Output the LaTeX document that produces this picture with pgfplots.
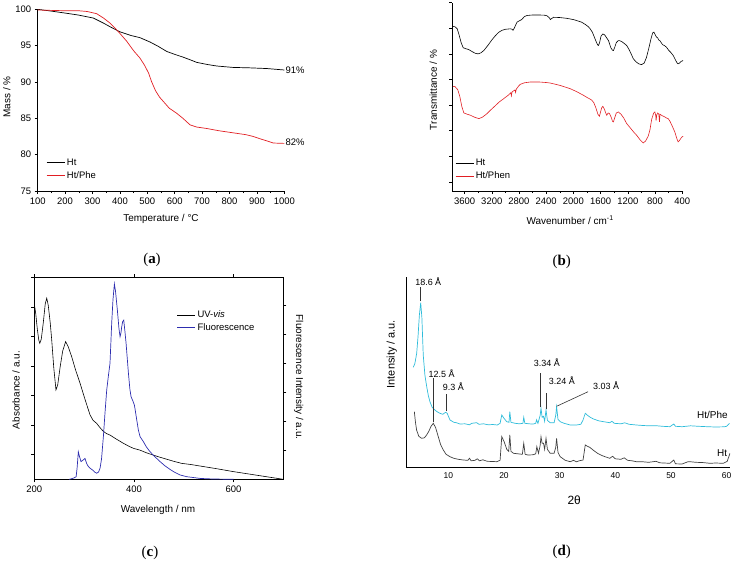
\documentclass[border=0pt]{standalone}
\usepackage{pgfplots}
\pgfplotsset{compat=1.18}
\usepackage{fontspec}
\setmainfont{Liberation Sans}
\newfontfamily\capfont{Liberation Serif}
\definecolor{myred}{RGB}{225,30,35}
\definecolor{myblue}{RGB}{45,45,175}
\definecolor{mycyan}{RGB}{45,188,218}
\pgfplotsset{
  every axis/.append style={
    scale only axis,
    /pgf/number format/assume math mode=true,
    /pgf/number format/1000 sep={},
    tick label style={font=\fontsize{9.5}{10}\selectfont},
    label style={font=\fontsize{10}{11}\selectfont},
    legend style={draw=none, fill=none, font=\fontsize{9.5}{11}\selectfont, inner sep=0pt, row sep=0.5bp},
    legend cell align=left,
    legend image code/.code={\draw[#1] (0bp,0bp) -- (18bp,0bp);},
    tick style={black, line width=0.5pt},
    axis line style={line width=0.6pt},
    major tick length=3bp, minor tick length=2bp,
    clip mode=individual,
  },
}
\begin{document}
\begin{tikzpicture}
\path[use as bounding box] (0,0) rectangle (735bp,-563bp);

% ---------------- (a) ----------------
\begin{axis}[
  at={(37.7bp,-191bp)}, anchor=south west,
  width=246.6bp, height=181.7bp,
  xmin=100, xmax=1000, ymin=75, ymax=100,
  axis x line*=bottom, axis y line*=left,
  xtick={100,200,...,1000}, ytick={75,80,...,100},
  minor x tick num=1,
  tick align=outside,
  xlabel={Temperature / °C}, ylabel={Mass / \%},
  every axis x label/.style={at={(axis description cs:0.5,-0.154)}, anchor=center},
  every axis y label/.style={at={(axis description cs:-0.125,0.517)}, anchor=center, rotate=90},
  legend style={at={(axis description cs:0.034,0.19)}, anchor=north west},
]
\addplot[black, line width=0.7pt] coordinates {
(100,100) (150,99.75) (206,99.45) (250,99.2) (303,98.8) (340,98.1) (364,97.6) (400,96.9) (440,96.4) (473,96.1) (510,95.5) (540,94.9) (571,94.2) (600,93.8) (632,93.4) (660,93.0) (680,92.7) (720,92.4) (753,92.2) (814,92.0) (870,91.95) (936,91.85) (1000,91.65)};
\addlegendentry{Ht}
\addplot[myred, line width=0.7pt] coordinates {
(100,99.9) (150,99.85) (200,99.8) (250,99.8) (280,99.7) (315,99.4) (340,98.8) (364,98.1) (395,96.9) (425,95.6) (450,94.3) (473,93.3) (490,92.3) (505,91.2) (515,90.1) (530,88.8) (545,87.9) (559,87.3) (580,86.4) (607,85.7) (630,85.0) (656,84.1) (680,83.8) (717,83.6) (760,83.3) (814,83.0) (860,82.75) (887,82.5) (910,82.2) (936,81.9) (960,81.6) (1000,81.55)};
\addlegendentry{Ht/Phe}
\node[anchor=west, font=\fontsize{9.5}{10}\selectfont, inner sep=1bp] at (axis cs:1000,91.65) {91\%};
\node[anchor=west, font=\fontsize{9.5}{10}\selectfont, inner sep=1bp] at (axis cs:1000,81.7) {82\%};
\end{axis}

% ---------------- (b) ----------------
\begin{axis}[
  at={(452.3bp,-191bp)}, anchor=south west,
  width=231bp, height=188.3bp,
  xmin=385, xmax=3780, x dir=reverse, ymin=0, ymax=7.36,
  axis x line*=bottom, axis y line*=left,
  xtick={400,800,...,3600}, minor x tick num=1,
  ytick={0.36,1.36,2.36,3.36,4.36,5.36,6.36,7.36}, yticklabels={},
  tick align=outside,
  xlabel={Wavenumber / cm\textsuperscript{-1}}, ylabel={Transmittance / \%},
  every axis x label/.style={at={(axis description cs:0.51,-0.154)}, anchor=center},
  every axis y label/.style={at={(axis description cs:-0.082,0.536)}, anchor=center, rotate=90},
  legend style={at={(axis description cs:0.012,0.18)}, anchor=north west},
]
\addplot[black, line width=0.6pt] coordinates {
(3771,6.43) (3740,6.42) (3708,6.34) (3680,6.1) (3650,5.8) (3620,5.6) (3580,5.56) (3540,5.53) (3490,5.45) (3440,5.38) (3400,5.36) (3360,5.4) (3317,5.49) (3260,5.68) (3200,5.9) (3150,6.06) (3100,6.2) (3050,6.28) (3000,6.32) (2927,6.34) (2900,6.32) (2888,6.28) (2870,6.36) (2829,6.6) (2790,6.66) (2760,6.7) (2720,6.82) (2682,6.86) (2600,6.88) (2500,6.88) (2420,6.87) (2389,6.85) (2350,6.76) (2340,6.70) (2320,6.74) (2292,6.79) (2200,6.78) (2100,6.75) (2000,6.7) (1950,6.66) (1880,6.6) (1820,6.5) (1780,6.42) (1754,6.34) (1720,6.2) (1690,6.0) (1660,5.8) (1640,5.7) (1632,5.69) (1615,5.8) (1595,6.05) (1568,6.14) (1540,6.1) (1510,5.98) (1485,5.88) (1450,5.6) (1425,5.5) (1412,5.49) (1395,5.6) (1370,5.8) (1345,5.87) (1325,5.88) (1290,5.84) (1250,5.76) (1218,5.69) (1180,5.52) (1150,5.35) (1120,5.17) (1080,5.05) (1040,4.97) (998,4.94) (960,5.0) (925,5.23) (890,5.6) (860,5.95) (835,6.18) (817,6.21) (800,6.12) (780,6.02) (760,5.98) (745,5.9) (730,5.88) (710,5.8) (690,5.72) (660,5.68) (632,5.62) (600,5.5) (570,5.42) (534,5.30) (500,5.12) (475,5.0) (461,4.97) (440,5.0) (420,5.06) (388,5.10)};
\addlegendentry{Ht}
\addplot[myred, line width=0.6pt] coordinates {
(3771,4.09) (3740,4.08) (3700,3.96) (3670,3.7) (3640,3.3) (3610,3.05) (3560,3.0) (3512,2.96) (3450,2.88) (3390,2.83) (3340,2.88) (3280,3.0) (3219,3.16) (3150,3.33) (3090,3.48) (3024,3.61) (2960,3.74) (2920,3.84) (2912,3.72) (2902,3.87) (2860,3.95) (2850,3.85) (2840,3.98) (2800,4.12) (2780,4.17) (2720,4.23) (2634,4.26) (2500,4.26) (2400,4.24) (2340,4.22) (2200,4.13) (2048,4.0) (1950,3.88) (1852,3.74) (1790,3.64) (1760,3.6) (1730,3.55) (1700,3.45) (1670,3.25) (1640,3.0) (1618,2.92) (1600,3.1) (1585,3.25) (1568,3.31) (1545,3.2) (1525,3.05) (1510,2.96) (1490,3.05) (1470,3.03) (1440,2.85) (1425,2.72) (1412,2.70) (1395,2.85) (1370,3.05) (1340,3.09) (1300,3.0) (1260,2.85) (1218,2.64) (1150,2.42) (1100,2.26) (1071,2.18) (1020,2.0) (974,1.88) (940,1.95) (900,2.15) (876,2.38) (850,2.8) (820,3.05) (803,3.09) (790,2.95) (785,2.75) (775,2.98) (760,3.05) (745,3.0) (735,2.7) (728,3.0) (700,2.95) (660,2.9) (630,2.85) (607,2.83) (580,2.72) (550,2.55) (510,2.31) (480,2.05) (461,1.92) (440,1.98) (410,2.1) (388,2.14)};
\addlegendentry{Ht/Phen}
\end{axis}

% ---------------- (c) ----------------
\begin{axis}[
  at={(34.3bp,-479.3bp)}, anchor=south west,
  width=249bp, height=202bp,
  xmin=200, xmax=700, ymin=0, ymax=6.847,
  xtick={200,400,600}, xtick pos=both, xticklabel pos=bottom,
  ytick={0.847,1.847,2.847,3.847,4.847,5.847,6.847}, yticklabels={}, ytick pos=left,
  tick align=outside,
  xlabel={Wavelength / nm}, ylabel={Absorbance / a.u.},
  every axis x label/.style={at={(axis description cs:0.497,-0.152)}, anchor=center},
  every axis y label/.style={at={(axis description cs:-0.0735,0.442)}, anchor=center, rotate=90},
]
\addplot[black, line width=0.6pt] coordinates {
(200,5.95) (203,5.6) (206,5.1) (209,4.72) (211,4.61) (214,4.75) (218,5.3) (222,5.95) (225,6.14) (228,5.9) (232,5.3) (235,4.72) (239,3.8) (243.5,3.03) (247,3.2) (252,3.82) (257,4.35) (263,4.67) (268,4.5) (275,4.16) (283,3.7) (292,3.25) (302,2.7) (312,2.18) (318,2.0) (325,1.9) (332,1.75) (339,1.62) (345,1.55) (352,1.50) (365,1.36) (379,1.22) (390,1.12) (399,1.05) (412,0.99) (425,0.9) (439,0.82) (452,0.75) (466,0.68) (480,0.61) (496,0.54) (515,0.5) (533,0.45) (566,0.36) (600,0.26) (650,0.13) (700,0.0)};
\end{axis}
\begin{axis}[
  at={(34.3bp,-479.3bp)}, anchor=south west,
  width=249bp, height=202bp,
  xmin=200, xmax=700, ymin=0, ymax=6.97,
  axis x line=none, axis y line*=right,
  ytick={1,2,3,4,5,6}, yticklabels={},
  tick align=outside,
  ylabel={Fluorescence Intensity / a.u.},
  every axis y label/.style={at={(axis description cs:1.062,0.506)}, anchor=center, rotate=-90},
  legend style={at={(axis description cs:0.572,0.845)}, anchor=north west},
]
\addlegendimage{black, line width=0.6pt}
\addlegendentry{UV-\textit{vis}}
\addplot[myblue, line width=0.7pt] coordinates {
(270,0) (275,0.02) (280,0.05) (284,0.09) (286,0.4) (288.4,0.95) (290.5,0.8) (293.8,0.61) (297,0.65) (301.8,0.72) (305,0.55) (308.5,0.44) (313,0.37) (318.6,0.30) (322,0.24) (325.3,0.21) (329,0.25) (332,0.38) (335,0.7) (338.7,1.47) (342,2.3) (345.4,3.08) (349,3.6) (352,4.0) (355.4,5.38) (358,6.2) (360.8,6.74) (363,6.5) (366.8,5.84) (370,5.2) (372.2,4.92) (374,5.05) (375.5,5.26) (377.5,5.45) (379.6,5.49) (382,5.1) (384.3,4.69) (387,4.1) (389,3.66) (392,3.1) (394.3,2.85) (398,2.7) (401,2.56) (403,2.35) (405.7,2.05) (409,1.7) (412.4,1.47) (419,1.30) (425,1.12) (432.5,0.95) (442,0.78) (452.6,0.61) (462,0.47) (472.7,0.34) (482,0.24) (492.8,0.15) (506,0.09) (520,0.06) (533,0.03) (560,0.01) (600,0)};
\addlegendentry{Fluorescence}
\end{axis}

% ---------------- (d) ----------------
\begin{axis}[
  at={(406bp,-467.3bp)}, anchor=south west,
  width=324bp, height=190.6bp,
  xmin=2.4, xmax=60.6, ymin=0, ymax=190.6,
  axis x line*=bottom, axis y line*=left,
  xtick={10,20,...,60}, ytick=\empty, major tick length=0pt,
  tick label style={font=\fontsize{8.5}{10}\selectfont},
  xticklabel style={yshift=-2bp},
  xlabel={2θ}, ylabel={Intensity / a.u.},
  every axis x label/.style={at={(axis description cs:0.519,-0.172)}, anchor=center, font=\fontsize{12}{13}\selectfont},
  every axis y label/.style={at={(axis description cs:-0.044,0.594)}, anchor=center, rotate=90, font=\fontsize{11}{12}\selectfont},
]
\addplot[black!75, line width=0.7pt] coordinates {
(3.9,55.6) (4.1,45) (4.3,37.3) (4.7,31) (5.2,29) (5.7,29.5) (6.1,32.3) (6.5,36) (6.9,41) (7.3,44) (7.7,40) (8.2,30.6) (8.6,23) (9.1,17.3) (9.6,13) (10.3,10.6) (11.0,9) (11.8,8) (12.7,7.3) (13.5,7) (13.8,9) (14.1,6.5) (14.8,7) (15.2,8.5) (15.6,6.5) (16.2,7.5) (17,6) (18,5.8) (18.7,5.6) (19.3,7) (19.6,30.6) (20.0,26) (20.5,18) (20.85,16) (21.05,32.3) (21.25,16) (21.7,14) (22.5,13.5) (23.3,13) (23.55,24) (23.8,13) (24.3,12.3) (25.2,12.5) (25.7,13.5) (25.9,20.6) (26.2,14) (26.5,22) (26.65,30.6) (26.85,24) (27.1,24) (27.3,18) (27.55,29) (27.8,18) (28.3,14) (29.0,14) (29.3,20) (29.45,29) (29.7,15) (30.1,10.6) (31.0,7) (31.9,5.6) (32.5,7) (33.0,5.5) (33.5,6.5) (34.2,7.3) (34.6,22.3) (35.0,21) (35.4,20) (36.0,17.3) (36.8,14) (37.5,12) (38.2,10.5) (39.0,9) (39.5,11) (40,8.5) (41,8) (41.6,9.5) (42.2,7) (43.0,6.5) (43.8,5.6) (45,5.5) (46,5) (47.3,6) (48,4.5) (49.8,4) (50.5,7.3) (50.8,3.5) (52,3.3) (53,5.5) (53.4,5.6) (54.5,5) (55.8,4.7) (57,4) (58,4.3) (59.4,4) (60.1,6) (60.6,14)};
\addplot[mycyan, line width=0.7pt] coordinates {
(3.71,100) (4.0,104) (4.32,114) (4.55,130) (4.8,152) (5.04,164.6) (5.25,150) (5.5,112) (5.8,92) (6.12,80.6) (6.4,72) (6.7,65.6) (7.1,60) (7.6,57.3) (8.0,55.5) (8.5,54) (9.0,53) (9.5,55) (9.8,54) (10.3,47.3) (11.0,45) (11.5,44.5) (12.1,43.3) (13.0,43.5) (13.8,42.5) (14.2,44) (15.1,44.6) (15.5,43) (16.3,43.5) (17.2,42.5) (18.0,42.8) (18.8,42.3) (19.3,44) (19.6,52.3) (20.0,49) (20.5,45.6) (20.9,45) (21.05,55.6) (21.25,45) (22.0,44) (22.8,43.5) (23.4,44) (23.55,50) (23.75,44) (24.5,43.5) (25.2,43.2) (25.7,44) (25.85,47.5) (26.1,44) (26.5,52) (26.65,59) (26.85,50) (27.1,51) (27.3,46) (27.55,57.3) (27.8,47) (28.3,44.5) (29.0,44.5) (29.3,52) (29.45,60.6) (29.7,48) (30.1,45.6) (30.8,44) (31.9,42.3) (33.0,42.3) (33.8,43) (34.2,47.3) (34.6,54) (35.0,52) (35.5,50) (36.0,48.5) (37.0,46.5) (38.0,45.5) (39.0,44.6) (39.4,46) (39.8,44) (41.0,43.5) (41.7,44.5) (42.5,43) (43.8,42.3) (45.0,41.8) (46.0,41.5) (47.5,41.5) (48.5,41) (49.8,40.6) (50.5,43.3) (50.8,41) (52.0,40.6) (53.5,41.5) (55.0,41) (56.5,40.6) (58.0,40.3) (59.5,40.5) (60.0,41) (60.5,44)};
% peak annotations
\begin{scope}[line width=0.6pt, black!80]
\draw (axis cs:5.04,166) -- (axis cs:5.04,180.6);
\draw (axis cs:7.3,45) -- (axis cs:7.3,89);
\draw (axis cs:9.7,56) -- (axis cs:9.7,73);
\draw (axis cs:26.6,60) -- (axis cs:26.6,94.6);
\draw (axis cs:27.65,58) -- (axis cs:27.65,74);
\draw (axis cs:29.45,61) -- (axis cs:35.1,75.6);
\end{scope}
\begin{scope}[every node/.style={font=\fontsize{9}{10}\selectfont, inner sep=1bp}]
\node[anchor=south] at (axis cs:6.4,181) {18.6 Å};
\node[anchor=south] at (axis cs:8.8,89) {12.5 Å};
\node[anchor=south] at (axis cs:10.9,76) {9.3 Å};
\node[anchor=south] at (axis cs:27.7,100) {3.34 Å};
\node[anchor=south] at (axis cs:30.4,81.5) {3.24 Å};
\node[anchor=south west] at (axis cs:35.8,77) {3.03 Å};
\node[anchor=east, font=\fontsize{10}{11}\selectfont] at (axis cs:60.4,52.3) {Ht/Phe};
\node[anchor=east, font=\fontsize{10}{11}\selectfont] at (axis cs:60.3,14.6) {Ht};
\end{scope}
\end{axis}

% ---------------- captions ----------------
\node[font=\capfont\fontsize{15}{16}\selectfont] at (152bp,-260bp) {(\textbf{a})};
\node[font=\capfont\fontsize{15}{16}\selectfont] at (561.7bp,-262bp) {(\textbf{b})};
\node[font=\capfont\fontsize{15}{16}\selectfont] at (150bp,-552.7bp) {(\textbf{c})};
\node[font=\capfont\fontsize{15}{16}\selectfont] at (561.7bp,-551.7bp) {(\textbf{d})};
\end{tikzpicture}
\end{document}
